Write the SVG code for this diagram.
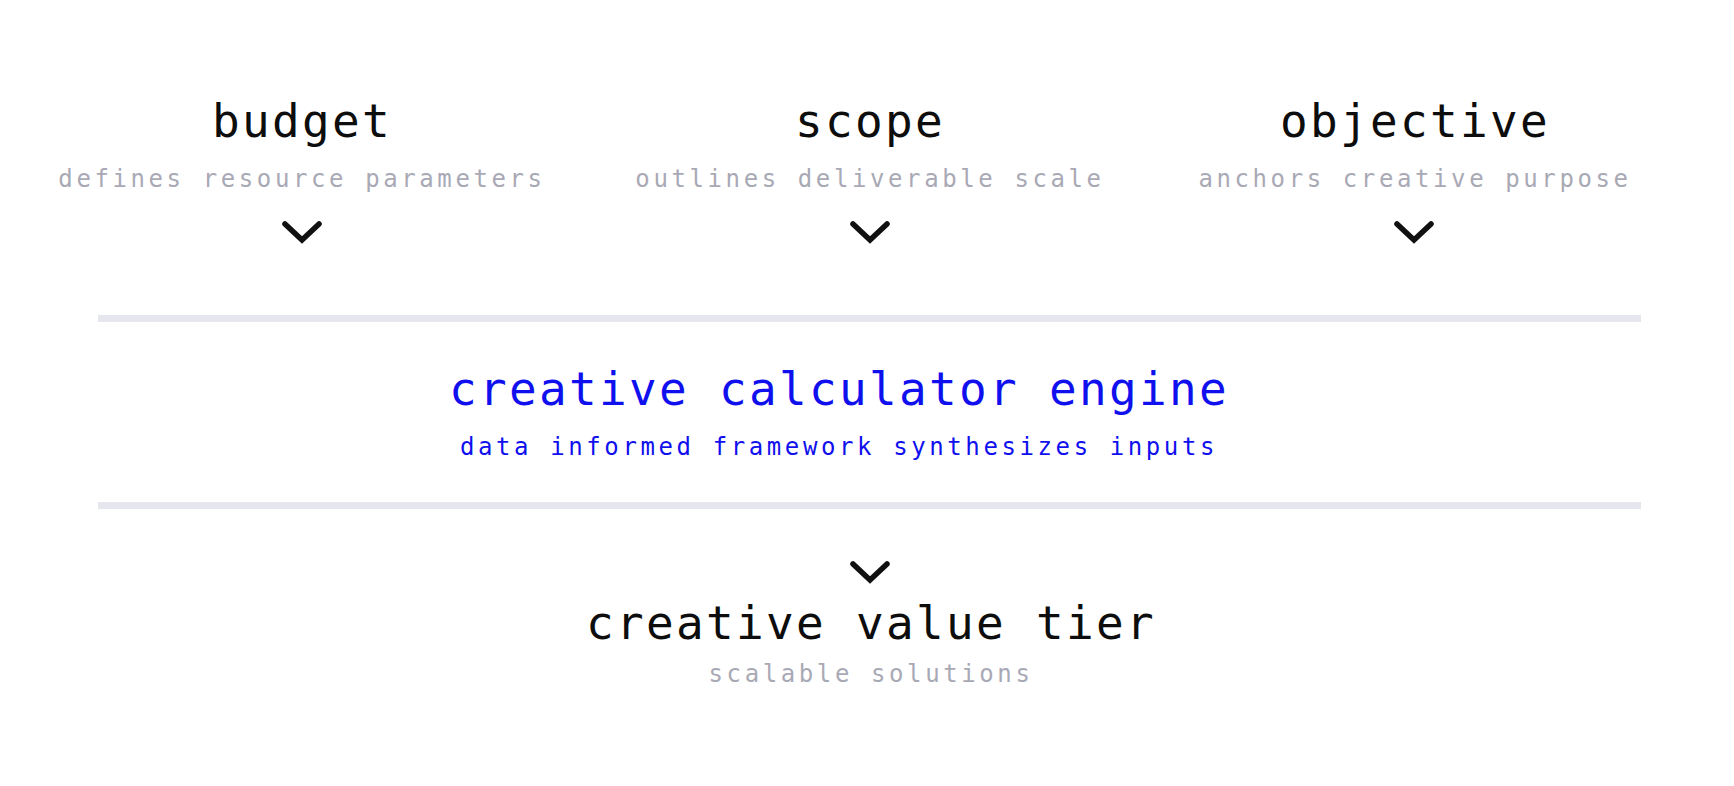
<svg xmlns="http://www.w3.org/2000/svg" width="1734" height="786" viewBox="0 0 1734 786">
<style>
text{font-family:"DejaVu Sans Mono","Liberation Mono",monospace;text-anchor:middle}
.t{font-size:46px;letter-spacing:2.3px;fill:#0d0d0d}
.s{font-size:24px;letter-spacing:3.6px;fill:#a9a9b5}
.bt{font-size:46px;letter-spacing:2.3px;fill:#1010ee}
.bs{font-size:24px;letter-spacing:3.6px;fill:#1010ee}
.chev{fill:none;stroke:#111;stroke-width:5.5;stroke-linecap:round;stroke-linejoin:miter}
.rule{fill:#e6e6ef}
</style>
<rect width="1734" height="786" fill="#fff"/>
<g id="budget">
<text class="t" x="302" y="137">budget</text>
<text class="s" x="302" y="187">defines resource parameters</text>
</g>
<g id="scope">
<text class="t" x="870" y="137">scope</text>
<text class="s" x="870" y="187">outlines deliverable scale</text>
</g>
<g id="objective">
<text class="t" x="1415" y="137">objective</text>
<text class="s" x="1415" y="187">anchors creative purpose</text>
</g>
<g id="engine">
<rect class="rule" x="98" y="315" width="1543" height="7"/>
<text class="bt" x="839" y="405">creative calculator engine</text>
<text class="bs" x="839" y="455">data informed framework synthesizes inputs</text>
<rect class="rule" x="98" y="502" width="1543" height="7"/>
</g>
<g id="tier">
<text class="t" x="871" y="639">creative value tier</text>
<text class="s" x="871" y="682">scalable solutions</text>
</g>
<g id="connectors">
<polyline class="chev" points="285,224 302,240 319,224"/>
<polyline class="chev" points="853,224 870,240 887,224"/>
<polyline class="chev" points="1397,224 1414,240 1431,224"/>
<polyline class="chev" points="853,564 870,580 887,564"/>
</g>
</svg>
